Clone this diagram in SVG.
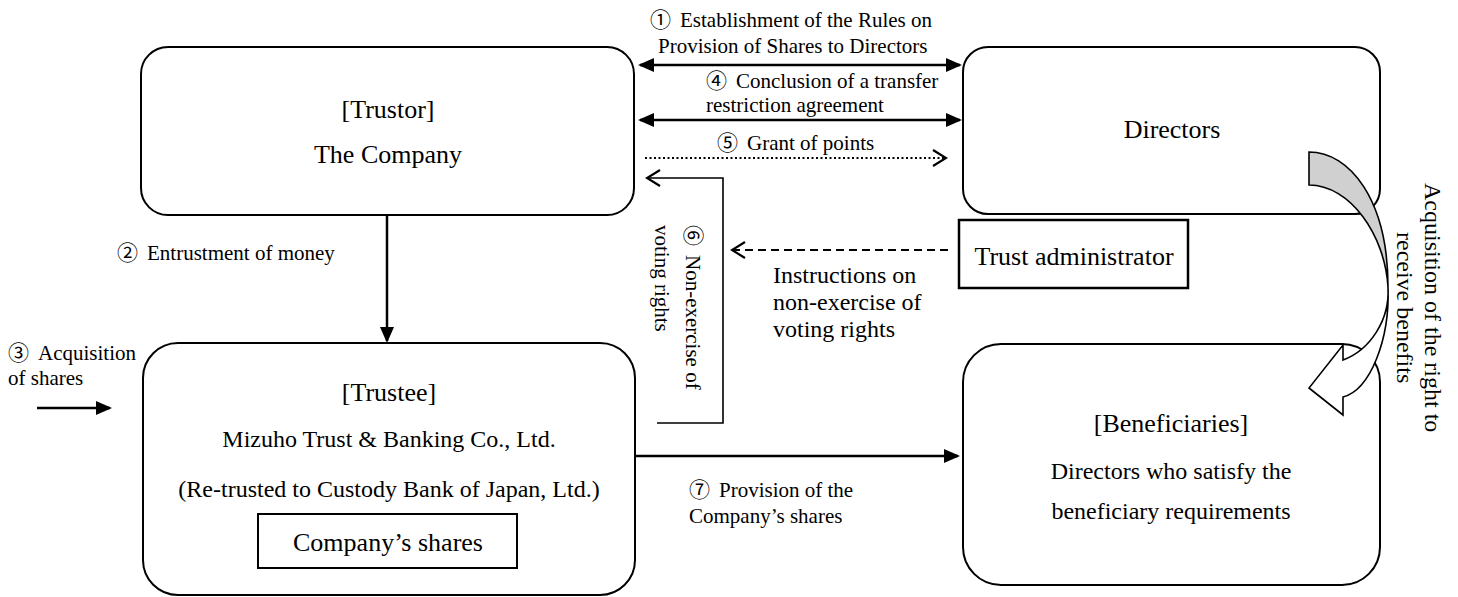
<svg xmlns="http://www.w3.org/2000/svg" width="1458" height="597" viewBox="0 0 1458 597">
<style>
.box{fill:#fff;stroke:#000;stroke-width:2}
.t{font-family:'Liberation Serif','Noto Sans CJK JP',serif;fill:#000}
.n26{font-size:26px}
.n24{font-size:24px}
.l21{font-size:21px}
.c{fill:none;stroke:#000}
.solid{stroke-width:2.5}
.mid{text-anchor:middle}
</style>
<defs>
<marker id="af" viewBox="0 0 16 14" refX="14" refY="7" markerWidth="16" markerHeight="14" markerUnits="userSpaceOnUse" orient="auto-start-reverse">
<path d="M0,0 L16,7 L0,14 Z" fill="#000"/>
</marker>
<marker id="ao" viewBox="0 0 16 18" refX="14" refY="9" markerWidth="16" markerHeight="18" markerUnits="userSpaceOnUse" orient="auto">
<path d="M1,1 L14,9 L1,17" fill="none" stroke="#000" stroke-width="2.2"/>
</marker>
</defs>

<g id="trustor">
<rect class="box" x="141" y="47" width="493" height="168" rx="27" ry="27"/>
<text class="t n26 mid" x="388" y="118">[Trustor]</text>
<text class="t n26 mid" x="388" y="163">The Company</text>
</g>

<g id="directors">
<rect class="box" x="963" y="47" width="417" height="167" rx="25" ry="25"/>
<text class="t n26 mid" x="1172" y="138">Directors</text>
</g>

<g id="trust-administrator">
<rect class="box" x="959" y="220" width="229" height="68" style="stroke-width:2.5"/>
<text class="t n26 mid" x="1074" y="265">Trust administrator</text>
</g>

<g id="trustee">
<rect class="box" x="143" y="343" width="492" height="252" rx="35" ry="35"/>
<text class="t n26 mid" x="389" y="401">[Trustee]</text>
<text class="t n24 mid" x="389" y="447">Mizuho Trust &amp; Banking Co., Ltd.</text>
<text class="t n24 mid" x="389" y="497">(Re-trusted to Custody Bank of Japan, Ltd.)</text>
<rect class="box" x="258" y="514" width="259" height="54"/>
<text class="t n26 mid" x="388" y="551">Company’s shares</text>
</g>

<g id="beneficiaries">
<rect class="box" x="963" y="344" width="417" height="241" rx="38" ry="38"/>
<text class="t n26 mid" x="1171" y="432">[Beneficiaries]</text>
<text class="t n24 mid" x="1171" y="479">Directors who satisfy the</text>
<text class="t n24 mid" x="1171" y="519">beneficiary requirements</text>
</g>

<g id="connectors">
<path class="c solid" d="M640,65 H960" marker-start="url(#af)" marker-end="url(#af)"/>
<path class="c solid" d="M640,120 H960" marker-start="url(#af)" marker-end="url(#af)"/>
<path class="c" d="M645,158 H946" stroke-width="2" stroke-dasharray="2 2.5" marker-end="url(#ao)"/>
<path class="c" d="M657,423 H723 V178 H647" stroke-width="1.6" marker-end="url(#ao)"/>
<path class="c" d="M948,250 H732" stroke-width="2" stroke-dasharray="8 5" marker-end="url(#ao)"/>
<path class="c solid" d="M387,215 V341" marker-end="url(#af)"/>
<path class="c solid" d="M37,408 H110" marker-end="url(#af)"/>
<path class="c solid" d="M636,456 H958" marker-end="url(#af)"/>
<path d="M1309,152 C1350,152 1388,200 1388,287 C1385,235 1350,185 1309,185 Z" fill="#d0d0d0" stroke="#000" stroke-width="1.6"/>
<path d="M1388,287 C1390,320 1370,350 1343,360 L1343,345 L1309,388 L1343,415 L1343,397 C1370,390 1390,340 1388,287 Z" fill="#fff" stroke="#000" stroke-width="1.6"/>
</g>

<g id="labels">
<text class="t l21" x="650" y="27">①<tspan dx="9">Establishment of the Rules on</tspan></text>
<text class="t l21" x="658" y="53">Provision of Shares to Directors</text>
<text class="t l21" x="706" y="88">④<tspan dx="9">Conclusion of a transfer</tspan></text>
<text class="t l21" x="706" y="112">restriction agreement</text>
<text class="t l21" x="717" y="150">⑤<tspan dx="9">Grant of points</tspan></text>
<text class="t l21" x="117" y="260">②<tspan dx="9">Entrustment of money</tspan></text>
<text class="t l21" x="8" y="360">③<tspan dx="9">Acquisition</tspan></text>
<text class="t l21" x="8" y="385">of shares</text>
<text class="t l21" x="689" y="497">⑦<tspan dx="9">Provision of the</tspan></text>
<text class="t l21" x="689" y="523">Company’s shares</text>
<text class="t n24" x="773" y="283">Instructions on</text>
<text class="t n24" x="773" y="310">non-exercise of</text>
<text class="t n24" x="773" y="337">voting rights</text>
<text class="t l21" transform="translate(686,225) rotate(90)">⑥<tspan dx="9">Non-exercise of</tspan></text>
<text class="t l21" transform="translate(655,225) rotate(90)">voting rights</text>
<text class="t n24" transform="translate(1425,183) rotate(90)">Acquisition of the right to</text>
<text class="t n24" transform="translate(1397,232) rotate(90)">receive benefits</text>
</g>
</svg>
